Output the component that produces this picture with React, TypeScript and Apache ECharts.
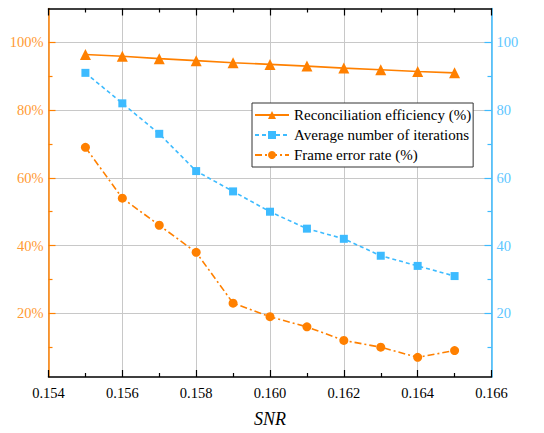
import React, { useEffect, useRef } from "react";
import * as echarts from "echarts";

const snr = [0.155, 0.156, 0.157, 0.158, 0.159, 0.16, 0.161, 0.162, 0.163, 0.164, 0.165];
const efficiency = [96.4, 95.9, 95.2, 94.6, 94.0, 93.5, 93.0, 92.4, 91.9, 91.4, 91.0];
const iterations = [91, 82, 73, 62, 56, 50, 45, 42, 37, 34, 31];
const frameErrorRate = [69, 54, 46, 38, 23, 19, 16, 12, 10, 7, 9];
const majorTicks = [20, 40, 60, 80, 100];
const minorTicks = [10, 30, 50, 70, 90];

const ORANGE = "#FF8000";
const ORANGE_TXT = "#FF9A33";
const BLUE = "#3DBBFF";
const BLUE_TXT = "#5CC6FF";
const FONT = "Liberation Serif";

const pairs = (ys: number[]) => snr.map((x, i) => [x, ys[i]]);

export default function App() {
  const ref = useRef<HTMLDivElement>(null);
  useEffect(() => {
    if (!ref.current) return;
    const chart = echarts.init(ref.current, undefined, { renderer: "svg" });
    const yMin = 1.2;
    const yMax = 110;
    const majorY = (pos: "left" | "right", color: string, txt: string, pct: boolean, split: boolean) => ({
      type: "value",
      position: pos,
      min: yMin,
      max: yMax,
      axisLine: { show: true, lineStyle: { color, width: 1.5 } },
      axisTick: { show: true, inside: true, length: 7, customValues: majorTicks, lineStyle: { color, width: 1.2 } },
      axisLabel: {
        show: true,
        customValues: majorTicks,
        margin: 5,
        color: txt,
        fontFamily: FONT,
        fontSize: 14.5,
        formatter: (v: number) => (pct ? `${v}%` : `${v}`),
      },
      splitLine: { show: split, lineStyle: { color: "#C8C8C8", width: 1 } },
    });
    const minorY = (pos: "left" | "right", color: string) => ({
      type: "value",
      position: pos,
      min: yMin,
      max: yMax,
      axisLine: { show: false },
      axisTick: { show: true, inside: true, length: 4, customValues: minorTicks, lineStyle: { color, width: 1.2 } },
      axisLabel: { show: false },
      splitLine: { show: false },
    });
    const xBase = {
      type: "value",
      min: 0.154,
      max: 0.166,
      interval: 0.002,
      axisLine: { show: true, lineStyle: { color: "#000", width: 1.5 } },
      axisTick: { show: true, inside: true, length: 7, lineStyle: { color: "#000", width: 1.2 } },
      minorTick: { show: true, splitNumber: 2, length: 4, lineStyle: { color: "#000", width: 1.2 } },
    };
    chart.setOption({
      animation: false,
      backgroundColor: "#fff",
      textStyle: { fontFamily: FONT },
      grid: { left: 48.5, right: 52.5, top: 8.5, bottom: 52.5, containLabel: false },
      legend: {
        show: true,
        orient: "vertical",
        left: 252,
        top: 103,
        padding: [3.5, 2, 3.5, 2],
        itemWidth: 34,
        itemHeight: 10,
        itemGap: 3,
        borderColor: "#333",
        borderWidth: 1,
        borderRadius: 0,
        backgroundColor: "#fff",
        textStyle: { fontFamily: FONT, fontSize: 15, color: "#000", lineHeight: 17 },
        data: ["Reconciliation efficiency (%)", "Average number of iterations", "Frame error rate (%)"],
      },
      xAxis: [
        {
          ...xBase,
          position: "bottom",
          name: "SNR",
          nameLocation: "middle",
          nameGap: 33,
          nameTextStyle: { fontFamily: FONT, fontSize: 18, fontStyle: "italic", color: "#000" },
          axisLabel: {
            show: true,
            margin: 8,
            color: "#000",
            fontFamily: FONT,
            fontSize: 14.5,
            formatter: (v: number) => v.toFixed(3),
          },
          splitLine: { show: true, lineStyle: { color: "#C8C8C8", width: 1 } },
        },
        {
          ...xBase,
          position: "top",
          axisLabel: { show: false },
          splitLine: { show: false },
        },
      ],
      yAxis: [
        majorY("left", ORANGE, ORANGE_TXT, true, true),
        minorY("left", ORANGE),
        majorY("right", BLUE, BLUE_TXT, false, false),
        minorY("right", BLUE),
      ],
      series: [
        {
          name: "Reconciliation efficiency (%)",
          type: "line",
          xAxisIndex: 0,
          yAxisIndex: 0,
          data: pairs(efficiency),
          symbol: "triangle",
          symbolSize: 11,
          lineStyle: { color: ORANGE, width: 1.6, type: "solid" },
          itemStyle: { color: ORANGE },
          z: 3,
        },
        {
          name: "Average number of iterations",
          type: "line",
          xAxisIndex: 0,
          yAxisIndex: 2,
          data: pairs(iterations),
          symbol: "rect",
          symbolSize: 8,
          lineStyle: { color: BLUE, width: 1.6, type: [4, 3] },
          itemStyle: { color: BLUE },
          z: 2,
        },
        {
          name: "Frame error rate (%)",
          type: "line",
          xAxisIndex: 0,
          yAxisIndex: 0,
          data: pairs(frameErrorRate),
          symbol: "circle",
          symbolSize: 9,
          lineStyle: { color: ORANGE, width: 1.6, type: [7, 3, 2, 3] },
          itemStyle: { color: ORANGE },
          z: 2,
        },
      ],
    });
    return () => chart.dispose();
  }, []);
  return <div ref={ref} style={{ width: 544, height: 433, position: "absolute", left: 0, top: 0 }} />;
}
